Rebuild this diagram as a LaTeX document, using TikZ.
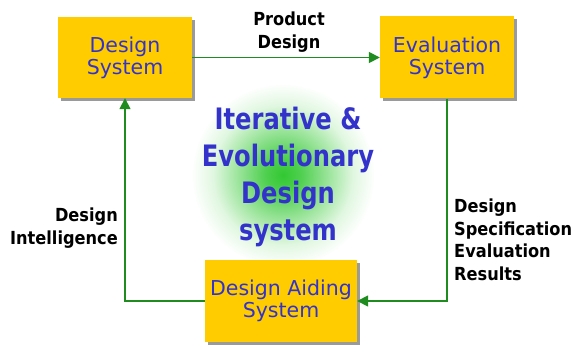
\documentclass[tikz,border=0pt]{standalone}
\usepackage{fontspec}
\setmainfont{DejaVu Sans}
\newfontfamily\labelfont{DejaVu Sans}[FakeStretch=0.9]
\newfontfamily\titlefont{DejaVu Sans}[FakeStretch=0.82]
\usetikzlibrary{arrows.meta,shadows}

\definecolor{boxyellow}{HTML}{FFCC00}
\definecolor{boxblue}{HTML}{3333CC}
\definecolor{flowgreen}{RGB}{30,140,30}
\definecolor{glowgreen}{RGB}{50,200,50}
\definecolor{shadowgray}{HTML}{9A9A9A}

\pgfdeclareradialshading{glow}{\pgfpoint{0bp}{0bp}}{%
  color(0bp)=(glowgreen);
  color(5bp)=(glowgreen!85!white);
  color(12bp)=(glowgreen!50!white);
  color(19bp)=(glowgreen!15!white);
  color(25bp)=(white);
  color(50bp)=(white)}

\tikzset{
  sysbox/.style={draw=none, fill=boxyellow, inner sep=0pt,
    text=boxblue, align=center,
    font=\fontsize{20.5}{22}\selectfont,
    drop shadow={shadow xshift=3pt, shadow yshift=-3pt,
                 fill=shadowgray, opacity=1}},
  flow/.style={draw=flowgreen, line width=1.6pt,
    -{Triangle[length=11pt,width=11pt]}},
  flowlabel/.style={inner sep=0pt, text=black,
    font=\labelfont\bfseries\fontsize{18}{22.5}\selectfont},
  titletext/.style={inner sep=0pt, text=boxblue, align=center,
    font=\titlefont\bfseries\fontsize{29.5}{37}\selectfont}
}

\begin{document}
\begin{tikzpicture}[x=1pt, y=-1pt]
  \useasboundingbox (0,0) rectangle (572,347);

  % soft green glow behind the title
  \shade[shading=glow] (283,175) circle (92);

  % the three systems
  \node[sysbox, minimum width=134pt, minimum height=81pt]
    (design) at (125,57.5) {Design\\System};
  \node[sysbox, minimum width=134pt, minimum height=82pt]
    (eval) at (447,57.5) {Evaluation\\System};
  \node[sysbox, minimum width=152pt, minimum height=82pt]
    (aid) at (281,301) {Design Aiding\\System};

  % central title
  \node[titletext] (title) at (288,177)
    {Iterative \&\\Evolutionary\\Design\\system};

  % corner points of the loop
  \coordinate (evalturn) at (eval.south |- aid.east);
  \coordinate (aidturn) at (design.south |- aid.west);

  % connectors
  \draw[flow] (design.east) -- (eval.west);
  \draw[flow] (eval.south) -- (evalturn) -- (aid.east);
  \draw[flow] (aid.west) -- (aidturn) -- (design.south);

  % connector labels
  \node[flowlabel, align=center] (lprod) at (289,32) {Product\\Design};
  \node[flowlabel, align=right, anchor=east] (lintel) at (118,228)
    {Design\\Intelligence};
  \node[flowlabel, align=left, anchor=west] (lspec) at (454,240)
    {Design\\Specification\\Evaluation\\Results};
\end{tikzpicture}
\end{document}
